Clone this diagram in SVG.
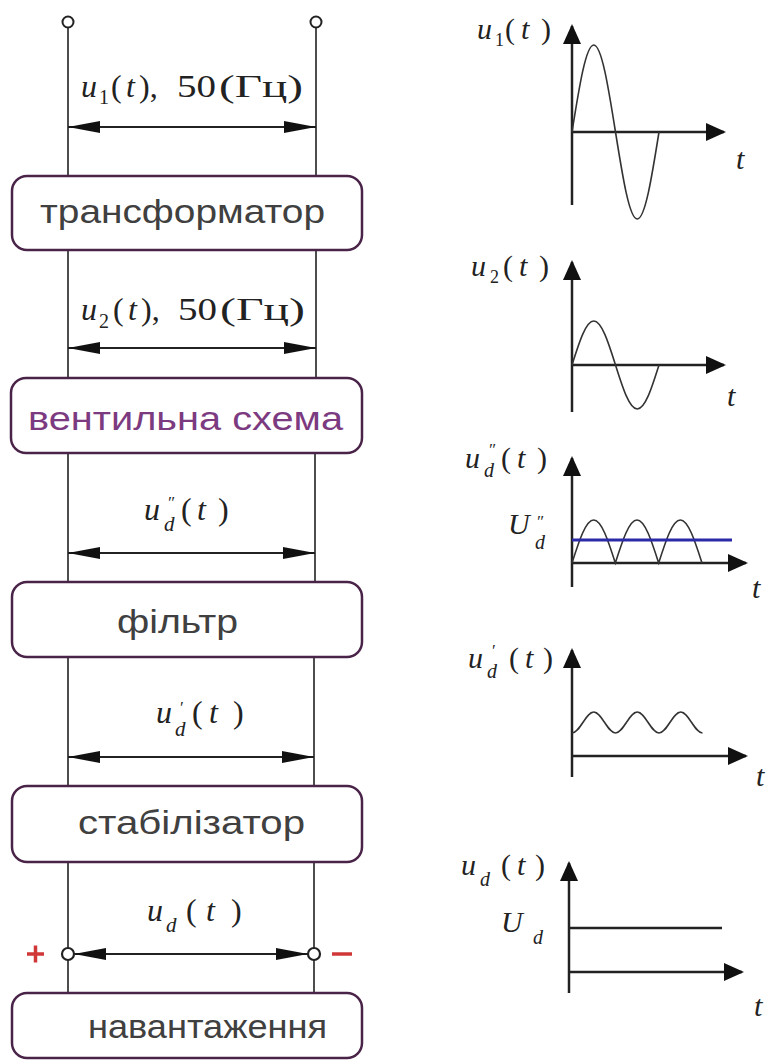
<svg xmlns="http://www.w3.org/2000/svg" width="768" height="1064" viewBox="0 0 768 1064">
<style>
.box{fill:#fff;stroke:#4a2448;stroke-width:2.5}
.bt{font-family:"Liberation Sans","DejaVu Sans",sans-serif;font-size:34px;fill:#404040}
.wire{stroke:#222;stroke-width:1.6;fill:none}
.dim{stroke:#222;stroke-width:2;fill:none;marker-start:url(#dh);marker-end:url(#dh)}
.ax{stroke:#222;stroke-width:2.5;fill:none;marker-end:url(#ah)}
.ax0{stroke:#222;stroke-width:2.5;fill:none}
.wave{stroke:#333;stroke-width:1.6;fill:none}
.m{font-family:"Liberation Serif","DejaVu Serif",serif;font-size:32px;font-style:normal;fill:#222}
.mi{font-family:"Liberation Serif","DejaVu Serif",serif;font-size:32px;font-style:italic;fill:#222}
.s{font-size:20px;font-style:normal}
.si{font-size:21px;font-style:italic}
.g{font-family:"Liberation Serif","DejaVu Serif",serif;font-size:30px;font-style:normal;fill:#222}
.gi{font-family:"Liberation Serif","DejaVu Serif",serif;font-size:30px;font-style:italic;fill:#222}
.gs{font-size:18px;font-style:normal}
.gsi{font-size:20px;font-style:italic}
.pr{font-size:17px;font-style:italic}
.n{font-style:normal}
</style>
<defs>
<marker id="dh" viewBox="0 0 32 12" markerWidth="32" markerHeight="12" markerUnits="userSpaceOnUse" refX="32" refY="6" orient="auto-start-reverse"><path d="M0,0 L32,6 L0,12 Z" fill="#111"/></marker>
<marker id="ah" viewBox="0 0 20 18" markerWidth="20" markerHeight="18" markerUnits="userSpaceOnUse" refX="18" refY="9" orient="auto"><path d="M0,0 L20,9 L0,18 Z" fill="#111"/></marker>
</defs>
<rect width="768" height="1064" fill="#fff"/>

<g id="connectors">
<circle cx="68" cy="22" r="5.5" fill="#fff" stroke="#222" stroke-width="2"/>
<circle cx="316" cy="22" r="5.5" fill="#fff" stroke="#222" stroke-width="2"/>
<path class="wire" d="M68,27.5V176 M316,27.5V176 M68,250V378 M316,250V378 M68,453V582 M315,453V582 M68,657V786 M314,657V786 M68,862V948 M314,862V948 M68,960V993 M314,960V993"/>
<line class="dim" x1="68" y1="127" x2="316" y2="127"/>
<line class="dim" x1="68" y1="348" x2="316" y2="348"/>
<line class="dim" x1="68" y1="553" x2="315" y2="553"/>
<line class="dim" x1="68" y1="757" x2="314" y2="757"/>
<line class="dim" x1="74" y1="954" x2="308" y2="954"/>
<circle cx="68" cy="954" r="6" fill="#fff" stroke="#222" stroke-width="2.2"/>
<circle cx="314" cy="954" r="6" fill="#fff" stroke="#222" stroke-width="2.2"/>
<path d="M27,954H44 M35.5,945.5V962.5" stroke="#d03838" stroke-width="3.5"/>
<path d="M332,954H352" stroke="#d03838" stroke-width="3.5"/>
</g>

<g id="label-u1">
<text class="mi" x="81" y="97">u<tspan class="s" x="99" y="104">1</tspan><tspan class="n" x="111" y="97">(</tspan><tspan x="126" y="97">t</tspan><tspan class="n" x="139" y="97">),</tspan></text>
<text class="m" x="177" y="97" textLength="39" lengthAdjust="spacingAndGlyphs">50</text>
<text class="m" x="219" y="97" textLength="84" lengthAdjust="spacingAndGlyphs">(Гц)</text>
</g>
<g id="label-u2">
<text class="mi" x="81" y="320">u<tspan class="s" x="99" y="328">2</tspan><tspan class="n" x="113" y="320">(</tspan><tspan x="128" y="320">t</tspan><tspan class="n" x="141" y="320">),</tspan></text>
<text class="m" x="178" y="320" textLength="39" lengthAdjust="spacingAndGlyphs">50</text>
<text class="m" x="220" y="320" textLength="85" lengthAdjust="spacingAndGlyphs">(Гц)</text>
</g>
<g id="label-ud2">
<text class="mi" x="144" y="520">u<tspan class="pr" x="167" y="508">″</tspan><tspan class="si" x="164" y="531">d</tspan><tspan class="n" x="181" y="520">(</tspan><tspan x="197" y="520">t</tspan><tspan class="n" x="218" y="520">)</tspan></text>
</g>
<g id="label-ud1">
<text class="mi" x="156" y="723">u<tspan class="pr" x="179" y="713">′</tspan><tspan class="si" x="175" y="736">d</tspan><tspan class="n" x="192" y="723">(</tspan><tspan x="209" y="723">t</tspan><tspan class="n" x="233" y="723">)</tspan></text>
</g>
<g id="label-ud">
<text class="mi" x="147" y="921">u<tspan class="si" x="166" y="932">d</tspan><tspan class="n" x="186" y="921">(</tspan><tspan x="206" y="921">t</tspan><tspan class="n" x="231" y="921">)</tspan></text>
</g>

<g id="transformer">
<rect class="box" x="12" y="176" width="350" height="74" rx="15"/>
<text class="bt" x="40" y="223" textLength="285" lengthAdjust="spacingAndGlyphs">трансформатор</text>
</g>
<g id="rectifier">
<rect class="box" x="11" y="378" width="351" height="75" rx="15"/>
<text class="bt" x="28" y="430" textLength="315" lengthAdjust="spacingAndGlyphs" style="fill:#7c3a80">вентильна схема</text>
</g>
<g id="filter">
<rect class="box" x="12" y="582" width="350" height="75" rx="15"/>
<text class="bt" x="117" y="633" textLength="121" lengthAdjust="spacingAndGlyphs">фільтр</text>
</g>
<g id="stabilizer">
<rect class="box" x="12" y="786" width="350" height="76" rx="15"/>
<text class="bt" x="78" y="834" textLength="227" lengthAdjust="spacingAndGlyphs">стабілізатор</text>
</g>
<g id="load">
<rect class="box" x="12" y="993" width="350" height="65" rx="15"/>
<text class="bt" x="88" y="1038" textLength="239" lengthAdjust="spacingAndGlyphs">навантаження</text>
</g>

<g id="graph1">
<line class="ax" x1="572" y1="205" x2="572" y2="26"/>
<line class="ax" x1="572" y1="132" x2="724" y2="132"/>
<path class="wave" d="M572,132 C579.27,86.3 585.92,45 593.75,45 C601.58,45 608.23,86.3 615.5,132 C622.77,177.7 629.42,219 637.25,219 C645.08,219 651.73,177.7 659,132"/>
<text class="gi" x="477" y="39">u<tspan class="gs" x="495" y="46">1</tspan><tspan class="n" x="505" y="39">(</tspan><tspan x="521" y="39">t</tspan><tspan class="n" x="541" y="39">)</tspan></text>
<text class="gi" x="736" y="169">t</text>
</g>
<g id="graph2">
<line class="ax" x1="572" y1="412" x2="572" y2="262"/>
<line class="ax" x1="572" y1="365" x2="724" y2="365"/>
<path class="wave" d="M572,365 C579.27,341.9 585.92,321 593.75,321 C601.58,321 608.23,341.9 615.5,365 C622.77,388.1 629.42,409 637.25,409 C645.08,409 651.73,388.1 659,365"/>
<text class="gi" x="471" y="276">u<tspan class="gs" x="490" y="283">2</tspan><tspan class="n" x="503" y="276">(</tspan><tspan x="519" y="276">t</tspan><tspan class="n" x="539" y="276">)</tspan></text>
<text class="gi" x="727" y="406">t</text>
</g>
<g id="graph3">
<line class="ax" x1="572" y1="587" x2="572" y2="458"/>
<line class="ax" x1="572" y1="563" x2="746" y2="563"/>
<path class="wave" d="M572,563 C579.24,540.4 585.87,520 593.67,520 C601.47,520 608.1,540.4 615.33,563 C622.57,540.4 629.2,520 637,520 C644.8,520 651.43,540.4 658.67,563 C665.9,540.4 672.53,520 680.33,520 C688.13,520 694.76,540.4 702,563"/>
<line x1="572" y1="540" x2="732" y2="540" stroke="#2a2aa8" stroke-width="3"/>
<text class="gi" x="465" y="468">u<tspan class="pr" x="488" y="455">″</tspan><tspan class="gsi" x="484" y="477">d</tspan><tspan class="n" x="501" y="468">(</tspan><tspan x="517" y="468">t</tspan><tspan class="n" x="537" y="468">)</tspan></text>
<text class="gi" x="508" y="534">U<tspan class="pr" x="536" y="527">″</tspan><tspan class="gsi" x="535" y="549">d</tspan></text>
<text class="gi" x="752" y="598">t</text>
</g>
<g id="graph4">
<line class="ax" x1="572" y1="777" x2="572" y2="650"/>
<line class="ax" x1="572" y1="756" x2="746" y2="756"/>
<path class="wave" d="M572,733 c3.91,0 7.24,-4.99 10.875,-10.5 c3.635,-5.51 6.965,-10.5 10.875,-10.5 c3.91,0 7.24,4.99 10.875,10.5 c3.635,5.51 6.965,10.5 10.875,10.5 c3.91,0 7.24,-4.99 10.875,-10.5 c3.635,-5.51 6.965,-10.5 10.875,-10.5 c3.91,0 7.24,4.99 10.875,10.5 c3.635,5.51 6.965,10.5 10.875,10.5 c3.91,0 7.24,-4.99 10.875,-10.5 c3.635,-5.51 6.965,-10.5 10.875,-10.5 c3.91,0 7.24,4.99 10.875,10.5 c3.635,5.51 6.965,10.5 10.875,10.5"/>
<text class="gi" x="468" y="668">u<tspan class="pr" x="491" y="656">′</tspan><tspan class="gsi" x="487" y="678">d</tspan><tspan class="n" x="509" y="668">(</tspan><tspan x="525" y="668">t</tspan><tspan class="n" x="543" y="668">)</tspan></text>
<text class="gi" x="756" y="786">t</text>
</g>
<g id="graph5">
<line class="ax" x1="569" y1="993" x2="569" y2="863"/>
<line class="ax" x1="569" y1="972" x2="742" y2="972"/>
<line class="ax0" x1="569" y1="928" x2="722" y2="928"/>
<text class="gi" x="461" y="875">u<tspan class="gsi" x="480" y="886">d</tspan><tspan class="n" x="501" y="875">(</tspan><tspan x="517" y="875">t</tspan><tspan class="n" x="535" y="875">)</tspan></text>
<text class="gi" x="501" y="932">U<tspan class="gsi" x="533" y="944">d</tspan></text>
<text class="gi" x="754" y="1016">t</text>
</g>
</svg>
